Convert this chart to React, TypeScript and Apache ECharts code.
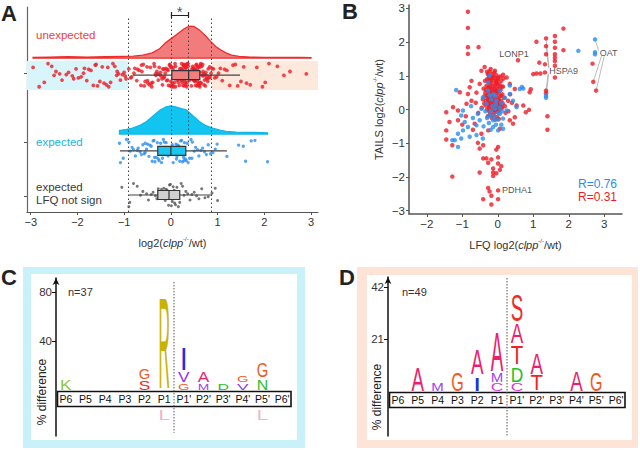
import React, { useEffect, useRef } from 'react';
import * as echarts from 'echarts';

const FONT = '"Liberation Sans", Arial, Helvetica, sans-serif';

// ---------------- Panel A data ----------------
const unexpectedValues = [
  -2.95, -2.82, -2.71, -2.63, -2.55, -2.5, -2.46, -2.38, -2.33, -2.24, -2.19, -2.11, -2.08, -2.03, -1.98, -1.92,
  -1.87, -1.85, -1.8, -1.76, -1.71, -1.66, -1.62, -1.6, -1.57, -1.52, -1.47, -1.43, -1.38, -1.35, -1.33, -1.29,
  -1.24, -1.2, -1.16, -1.15, -1.12, -1.08, -1.04, -1.0, -0.98, -0.96,
  -0.9, -0.86, -0.84, -0.79, -0.77, -0.73, -0.71, -0.68, -0.64, -0.63, -0.59, -0.57, -0.55, -0.51, -0.49, -0.46,
  -0.44, -0.41, -0.39, -0.36, -0.35, -0.32, -0.3, -0.28, -0.27, -0.24, -0.22, -0.21, -0.19, -0.17, -0.15, -0.14,
  -0.12, -0.11, -0.09, -0.08, -0.06, -0.05, -0.03, -0.02, -0.01, 0.0, 0.01, 0.03, 0.04, 0.05, 0.06, 0.08, 0.09,
  0.1, 0.11, 0.12, 0.13, 0.14, 0.15, 0.16, 0.17, 0.18, 0.19, 0.2, 0.21, 0.22, 0.22, 0.23, 0.24, 0.25, 0.26, 0.27,
  0.28, 0.29, 0.3, 0.3, 0.31, 0.32, 0.33, 0.34, 0.35, 0.36, 0.37, 0.38, 0.38, 0.39, 0.4, 0.41, 0.42, 0.43, 0.44,
  0.45, 0.46, 0.47, 0.48, 0.49, 0.5, 0.51, 0.52, 0.53, 0.54, 0.55, 0.56, 0.57, 0.58, 0.59, 0.6, 0.61, 0.62, 0.63,
  0.64, 0.66, 0.67, 0.69, 0.7, 0.72, 0.73, 0.75, 0.77, 0.78, 0.8, 0.82, 0.84, 0.86, 0.88, -0.5, -0.15, 0.05, 0.18,
  0.27, 0.33, 0.44, 0.52, 0.58, 0.65, 0.71, -0.25, 0.02, 0.24, 0.36, 0.47, 0.55,
  -0.62, -0.33, -0.07, 0.07, 0.14, 0.2, 0.26, 0.31, 0.35, 0.4, 0.43, 0.48, 0.5, 0.53, 0.57, 0.6, 0.63, 0.68,
  0.74, 0.79, 0.83, -0.42, -0.18, 0.0, 0.1, 0.16, 0.23, 0.29, 0.34, 0.39, 0.45, 0.49, 0.56, 0.62, 0.69, 0.76,
  0.91, 0.94, 0.98, 1.02, 1.06, 1.1, 1.15, 1.2, 1.26, 1.33, 1.38, 1.43, 1.5, 1.56, 1.62, 1.7, 1.84, 1.96, 2.02,
  2.1, 2.28, 2.42, 2.55, 2.9,
];
const expectedValues = [
  -1.1, -1.08, -1.02, -0.95, -0.9, -0.87, -0.83, -0.8, -0.76, -0.72, -0.7, -0.66, -0.63, -0.6, -0.57, -0.55,
  -0.52, -0.5, -0.47, -0.45, -0.42, -0.4, -0.38, -0.36, -0.34, -0.31, -0.29, -0.27, -0.25, -0.22, -0.2, -0.18,
  -0.16, -0.14, -0.12, -0.1, -0.08, -0.06, -0.04, -0.02, 0.0, 0.02, 0.03, 0.05, 0.07, 0.09, 0.11, 0.13, 0.15,
  0.17, 0.19, 0.21, 0.23, 0.25, 0.27, 0.29, 0.31, 0.33, 0.35, 0.37, 0.4, 0.43, 0.46, 0.5, 0.53, 0.57, 0.6, 0.64,
  0.68, 0.72, 0.76, 0.8, 0.85, 0.9, 0.95, 0.99, 1.2, 1.45, 1.55, 1.6, 1.72, 1.8, 2.07, -0.35, -0.1, 0.12, 0.28,
  -0.55, 0.05, 0.45,
];
const notSignValues = [
  -1.05, -0.9, -0.88, -0.8, -0.72, -0.65, -0.6, -0.52, -0.48, -0.42, -0.38, -0.33, -0.3, -0.27, -0.24, -0.21,
  -0.18, -0.15, -0.12, -0.1, -0.08, -0.05, -0.03, -0.01, 0.01, 0.03, 0.05, 0.08, 0.1, 0.13, 0.16, 0.19, 0.22,
  0.25, 0.28, 0.32, 0.36, 0.41, 0.45, 0.5, 0.55, 0.6, 0.66, 0.73, 0.8, 0.88, 0.95, 1.0, -0.2, 0.07,
];
const jitterPattern = [
  0.62, -0.41, 0.15, -0.88, 0.93, -0.07, 0.47, -0.66, 0.29, -0.23, 0.81, -0.95, 0.04, 0.55, -0.52, 0.71, -0.3,
  0.38, -0.79, 0.1, -0.14, 0.86, -0.6, 0.22, -0.45, 0.67, -0.02, 0.5, -0.84,
];
const redDensityX = [-2.95, -2.6, -2.2, -1.8, -1.4, -1.0, -0.8, -0.6, -0.4, -0.25, -0.12, 0.0, 0.09, 0.18, 0.27, 0.35, 0.42, 0.5, 0.61, 0.75, 0.85, 0.96, 1.07, 1.18, 1.3, 1.46, 1.7, 2.0, 2.4, 2.8, 3.0];
const redDensityH = [0.02, 0.03, 0.04, 0.03, 0.04, 0.05, 0.06, 0.09, 0.16, 0.28, 0.47, 0.6, 0.7, 0.8, 0.9, 0.97, 1.0, 0.98, 0.88, 0.68, 0.52, 0.36, 0.25, 0.16, 0.09, 0.05, 0.03, 0.02, 0.02, 0.02, 0.01];
const blueDensityX = [-1.1, -0.95, -0.82, -0.65, -0.52, -0.4, -0.23, -0.1, 0.0, 0.1, 0.2, 0.33, 0.47, 0.61, 0.75, 0.89, 1.05, 1.18, 1.4, 1.6, 1.8, 2.07];
const blueDensityH = [0.13, 0.17, 0.21, 0.32, 0.45, 0.62, 0.86, 0.97, 1.0, 0.97, 0.92, 0.86, 0.65, 0.45, 0.3, 0.21, 0.14, 0.1, 0.07, 0.06, 0.06, 0.04];
// [min, q1, median, q3, max]
const boxUnexpected = [-0.81, 0.02, 0.38, 0.62, 1.48];
const boxExpected = [-1.09, -0.28, 0.0, 0.32, 1.2];
const boxNotSign = [-0.9, -0.28, -0.04, 0.19, 0.87];
const cutoffs = [-0.92, 0.87];
const medians = [0, 0.38];
const xTicksA = [-3, -2, -1, 0, 1, 2, 3];

// ---------------- Panel B data ----------------
const tailsRed = [
  [-0.3, 0.9], [-0.25, 1.0], [-0.2, 0.85], [-0.15, 0.95], [-0.1, 1.1], [-0.05, 0.8], [0.0, 0.9], [0.05, 0.75], [0.1, 0.85],
  [-0.32, 0.7], [-0.27, 0.65], [-0.22, 0.72], [-0.17, 0.6], [-0.12, 0.68], [-0.07, 0.55], [-0.02, 0.62], [0.03, 0.5], [0.08, 0.58],
  [0.13, 0.45], [-0.35, 0.5], [-0.3, 0.42], [-0.25, 0.48], [-0.2, 0.38], [-0.15, 0.45], [-0.1, 0.35], [-0.05, 0.4], [0.0, 0.3],
  [0.05, 0.38], [0.1, 0.25], [-0.33, 0.25], [-0.28, 0.2], [-0.23, 0.28], [-0.18, 0.15], [-0.13, 0.22], [-0.08, 0.12], [-0.03, 0.18],
  [0.02, 0.08], [0.07, 0.15], [0.12, 0.05], [-0.3, 0.0], [-0.25, 0.05], [-0.2, -0.05], [-0.15, 0.02], [-0.1, -0.1], [-0.05, 0.0],
  [0.0, -0.08], [0.05, -0.02], [-0.28, -0.2], [-0.22, -0.15], [-0.17, -0.25], [-0.12, -0.18], [-0.07, -0.3], [-0.02, -0.22],
  [0.03, -0.28], [-0.2, 1.2], [-0.28, 1.05], [-0.12, 0.98], [-0.04, 1.02], [0.02, 0.95], [-0.18, 0.78], [-0.09, 0.72], [0.01, 0.7],
  [-0.24, 0.58], [-0.14, 0.52], [-0.04, 0.48], [0.06, 0.62], [-0.26, 0.35], [-0.16, 0.3], [-0.06, 0.26], [0.04, 0.2], [-0.22, 0.1],
  [-0.12, 0.08], [-0.02, 0.04], [-0.34, 0.12], [-0.36, 0.85], [-0.4, 0.62], [-0.42, 0.3], [-0.45, 0.05], [0.15, 0.68], [0.18, 0.35],
  [0.2, 0.1], [0.22, -0.1], [0.16, 0.92], [-0.08, 1.15], [-0.3, 1.12],
  [-0.27, 0.82], [-0.19, 0.92], [-0.11, 0.86], [-0.03, 0.77], [0.07, 0.98], [-0.33, 0.58], [-0.21, 0.52], [-0.09, 0.6],
  [0.0, 0.55], [0.09, 0.4], [-0.29, 0.32], [-0.19, 0.24], [-0.07, 0.33], [0.03, 0.27], [-0.26, 0.16], [-0.14, 0.12],
  [-0.01, 0.15], [0.08, 0.05], [-0.24, -0.05], [-0.09, -0.02], [-0.16, 1.05], [-0.24, 0.92], [-0.13, 0.4], [0.11, 0.68],
  [-0.37, 0.4], [-0.38, 0.18], [0.14, 0.18], [-0.06, 0.92], [-0.22, 0.65], [-0.01, 0.85],
  [-0.84, 2.9], [-0.84, 2.42], [-0.84, 1.85], [-0.84, 1.65], [-0.54, 1.85], [0.57, 1.46], [-0.37, 1.26], [-0.46, 1.15], [-0.23, 1.13],
  [0.15, 1.03], [0.25, 0.95], [0.34, 0.76], [0.48, 0.61], [-0.74, 0.85], [-0.79, 0.66], [-0.51, 0.76], [-1.07, 0.51], [-0.84, 0.46],
  [-1.26, 0.07], [-1.45, -0.08], [-1.12, -0.03], [-0.88, 0.17], [-0.74, 0.26], [-1.36, -0.37], [-1.12, -0.32], [-1.45, -0.62],
  [-0.65, -0.42], [-0.46, -0.72], [-0.27, -0.62], [0.06, -0.57], [0.43, -0.42], [0.34, -0.32], [0.48, -0.23], [0.53, 0.12],
  [0.29, 0.26], [0.72, 0.12], [0.79, -0.08], [0.88, -0.01], [0.9, 0.51], [0.93, 0.6], [-0.6, 0.5], [-0.62, 0.2], [-0.55, -0.1],
  [-0.9, -0.2], [-1.0, -0.45], [-0.7, -0.6], [0.35, 0.45], [0.4, 0.2], [0.3, -0.05], [-1.45, -0.89], [-1.28, -1.06], [-0.56, -0.99],
  [-0.41, -1.06], [-0.51, -1.16],
  [0.01, -1.11], [-0.04, -1.19], [-0.41, -1.45], [-0.32, -1.45], [-0.18, -1.48], [0.01, -1.42], [-0.27, -1.58], [0.01, -1.6],
  [0.1, -1.68], [-0.13, -1.75], [0.06, -1.79], [-0.51, -1.87], [-0.13, -1.87], [-0.13, -1.97], [-0.04, -1.89], [-1.28, -1.99],
  [-0.27, -2.33], [-0.23, -2.43], [0.01, -2.4], [-0.18, -2.56], [-0.41, -2.66], [0.01, -2.66], [-0.18, -2.82],
  [1.85, 2.4], [1.61, 2.18], [1.36, 2.11], [1.09, 2.01], [1.61, 2.01], [1.36, 1.88], [1.61, 1.83], [1.85, 1.76], [1.36, 1.64],
  [1.61, 1.64], [1.61, 1.54], [1.17, 1.39], [1.61, 1.44], [1.33, 1.34], [1.61, 1.3], [1.09, 1.07], [1.2, 1.07], [1.33, 1.1],
  [1.61, 0.95], [1.0, 1.05], [1.36, 0.56], [1.36, 0.48], [2.69, 0.82], [2.77, 0.56], [2.67, 1.36], [1.4, -0.2], [1.4, -0.6],
];
const tailsBlue = [
  [-0.23, 1.0], [-0.27, 0.8], [-1.17, 0.58], [-0.98, -0.03], [-1.03, -0.18], [-0.93, -0.37], [-0.56, -0.13], [-0.51, -0.32],
  [-0.6, -0.47], [-0.84, -0.52], [-0.98, -0.62], [-1.12, -0.72], [-1.21, -0.91], [-1.03, -0.86], [-0.79, -0.81], [-0.6, -0.76],
  [-0.42, -0.86], [-0.23, -0.18], [-0.13, -0.32], [-0.08, 0.02], [0.06, -0.13], [0.15, -0.27], [0.25, -0.03], [0.43, 0.26],
  [0.34, 0.46], [-0.04, 0.26], [-0.32, 0.17], [-0.42, 0.36], [-0.46, 0.02], [-0.27, 0.56], [0.06, 0.56], [-0.13, -0.52],
  [0.01, -0.62], [0.15, -0.57], [0.34, 0.71], [0.62, 0.61], [0.53, 0.07], [0.68, 0.67], [0.72, 0.62], [-1.12, -1.11],
  [-1.28, -0.91], [-0.2, -0.05], [-0.15, 0.1], [-0.1, -0.2], [-0.05, 0.15], [0.0, -0.3], [0.05, 0.05], [0.1, -0.45],
  [-0.25, -0.4], [-0.3, -0.25], [-0.18, 0.3], [-0.08, 0.4], [0.02, -0.1], [0.1, 0.2], [-0.35, -0.05], [-0.2, -0.6],
  [-0.12, 0.45], [0.2, 0.35], [-0.4, -0.5], [-0.7, -0.25], [-0.75, 0.1], [2.27, 1.74], [2.74, 2.08], [2.74, 1.7], [2.74, 1.64],
  [1.36, 0.41], [1.36, 0.35], [-0.05, -0.45], [-0.22, 0.42], [0.12, -0.05],
];
const geneLabels: [string, number, number][] = [
  ['LONP1', 0.04, 1.65],
  ['HSPA9', 1.45, 1.15],
  ['OAT', 2.87, 1.68],
  ['PDHA1', 0.12, -2.38],
];
const labelLinks = [
  [[1.36, 2.11], [1.44, 1.25]],
  [[1.36, 1.88], [1.44, 1.22]],
  [[1.36, 0.56], [1.42, 1.06]],
  [[1.36, 0.35], [1.43, 1.04]],
  [[2.74, 2.08], [2.84, 1.75]],
  [[2.69, 0.82], [2.92, 1.58]],
  [[2.77, 0.56], [3.0, 1.58]],
];
const xTicksB = [-2, -1, 0, 1, 2, 3];
const yTicksB = [-3, -2, -1, 0, 1, 2, 3];

// ---------------- Panels C, D data ----------------
const positions = ['P6', 'P5', 'P4', 'P3', 'P2', 'P1', "P1'", "P2'", "P3'", "P4'", "P5'", "P6'"];
// [position, residue, low %, high %]
const logoC: [string, string, number, number][] = [
  ['P6', 'K', 0, 8.2],
  ['P2', 'S', 0, 7.3], ['P2', 'G', 9, 18],
  ['P1', 'R', 0, 76], ['P1', 'L', -16.3, -24.5],
  ["P1'", 'G', 0, 5.7], ["P1'", 'V', 6.5, 14.7], ["P1'", 'I', 16.3, 34.3],
  ["P2'", 'M', 0, 5.7], ["P2'", 'A', 6.5, 14.7],
  ["P3'", 'D', 0, 4.9],
  ["P4'", 'V', 0, 5.7], ["P4'", 'G', 6.5, 12],
  ["P5'", 'N', 0, 9], ["P5'", 'G', 9.8, 22], ["P5'", 'L', -16.3, -24.5],
];
const logoD: [string, string, number, number][] = [
  ['P5', 'A', 0, 9.7],
  ['P4', 'M', 0, 3.2],
  ['P3', 'G', 0, 7.3],
  ['P2', 'I', 0, 5.2], ['P2', 'A', 6.5, 16.6],
  ['P1', 'C', 0, 3.2], ['P1', 'M', 3.6, 7.3], ['P1', 'A', 7.7, 23.8],
  ["P1'", 'C', 0, 3.2], ["P1'", 'D', 3.6, 9.7], ["P1'", 'T', 10.9, 18.6], ["P1'", 'A', 19.4, 27.5], ["P1'", 'S', 27.9, 38.4],
  ["P2'", 'T', 0, 6.5], ["P2'", 'A', 6.9, 15.3],
  ["P4'", 'A', 0, 8.1],
  ["P5'", 'G', 0, 7.3],
];
const nC = 37;
const nD = 49;
const yTicksC = [40, 80];
const yTicksD = [21, 42];

const letterColors: Record<string, string> = {
  A: '#ec1f6e', C: '#d63ad6', D: '#1fc01f', G: '#f2591f', I: '#1f2fe0', K: '#8cc63e', L: '#f5b4c4',
  M: '#a13ff0', N: '#2cc12c', R: '#c8b400', S: '#ef2b25', T: '#ef2424', V: '#9333f5',
};
const letterWidthEm: Record<string, number> = {
  A: 0.667, C: 0.722, D: 0.722, G: 0.778, I: 0.42, K: 0.667, L: 0.556, M: 0.833, N: 0.722, R: 0.722,
  S: 0.667, T: 0.611, V: 0.667,
};

// layout constants (panel A rows in y-axis units)
const ROW_RED = 6.68;
const ROW_BLUE = 2.98;
const ROW_GRAY = 0.83;
const JIT = 0.6;
const BOX_HALF = 0.22;
const RED_BASE = 7.51;
const RED_PEAK = 1.56;
const BLUE_BASE = 3.8;
const BLUE_PEAK = 1.37;

const minus = (v: number) => String(v).replace('-', '\u2212');
const axisNameRich = {
  i: { fontStyle: 'italic', fontSize: 11, fontFamily: FONT, color: '#333' },
  s: { fontSize: 6, fontFamily: FONT, color: '#333', verticalAlign: 'top', lineHeight: 14 },
};

function densitySeries(xs: number[], hs: number[], base: number, peak: number, fill: string, stroke: string) {
  return {
    type: 'custom', xAxisIndex: 0, yAxisIndex: 0, z: 3, silent: true, clip: false,
    data: xs.map((x, i) => [x, base + hs[i] * peak]),
    renderItem: (params: any, api: any) => {
      if (params.dataIndex !== 0) return null;
      const pts: number[][] = [api.coord([xs[0], base])];
      xs.forEach((x, i) => pts.push(api.coord([x, base + hs[i] * peak])));
      pts.push(api.coord([xs[xs.length - 1], base]));
      return { type: 'polygon', shape: { points: pts }, style: { fill, stroke, lineWidth: 1.3 } };
    },
  };
}

function boxSeries(stats: number[], row: number, fill: string) {
  return {
    type: 'custom', xAxisIndex: 0, yAxisIndex: 0, z: 6, silent: true, clip: false,
    data: [[...stats, row]],
    renderItem: (params: any, api: any) => {
      const [mn, q1, md, q3, mx] = stats;
      const a = api.coord([mn, row]);
      const b = api.coord([mx, row]);
      const t = api.coord([q1, row + BOX_HALF]);
      const bt = api.coord([q3, row - BOX_HALF]);
      const m1 = api.coord([md, row + BOX_HALF]);
      const m2 = api.coord([md, row - BOX_HALF]);
      return {
        type: 'group',
        children: [
          { type: 'line', shape: { x1: a[0], y1: a[1], x2: b[0], y2: b[1] }, style: { stroke: '#444', lineWidth: 1.2 } },
          { type: 'rect', shape: { x: t[0], y: t[1], width: bt[0] - t[0], height: bt[1] - t[1] }, style: { fill, stroke: '#333', lineWidth: 1.2 } },
          { type: 'line', shape: { x1: m1[0], y1: m1[1], x2: m2[0], y2: m2[1] }, style: { stroke: '#333', lineWidth: 1.2 } },
        ],
      };
    },
  };
}

function jittered(values: number[], row: number) {
  return values.map((v, i) => [v, row + jitterPattern[(i * 11) % jitterPattern.length] * JIT]);
}

function logoSeries(logo: [string, string, number, number][], axis: number, colW: number) {
  return {
    type: 'custom', xAxisIndex: axis, yAxisIndex: axis, z: 5, silent: true, clip: false,
    data: logo.map((d) => [positions.indexOf(d[0]), d[2], d[3]]),
    encode: { x: 0, y: [1, 2] },
    renderItem: (params: any, api: any) => {
      const [, ch, lo, hi] = logo[params.dataIndex];
      const ci = positions.indexOf(logo[params.dataIndex][0]);
      const p0 = api.coord([ci, lo]);
      const p1 = api.coord([ci, hi]);
      const h = Math.abs(p0[1] - p1[1]);
      const F = 20;
      return {
        type: 'text',
        x: p0[0],
        y: (p0[1] + p1[1]) / 2,
        scaleX: colW / (letterWidthEm[ch] * F),
        scaleY: h / (0.716 * F),
        style: { text: ch, fill: letterColors[ch], font: `${F}px ${FONT}`, align: 'center', verticalAlign: 'middle' },
      };
    },
  };
}

function labelBoxSeries(axis: number, dividerTop: number, dividerBottom: number) {
  return {
    type: 'custom', xAxisIndex: axis, yAxisIndex: axis, z: 4, silent: true, clip: false,
    data: [[0, 0]],
    renderItem: (params: any, api: any) => {
      const bw = api.size([1, 0])[0];
      const p0 = api.coord([0, 0]);
      const pl = api.coord([positions.length - 1, 0]);
      const left = p0[0] - bw / 2 + 1.5;
      const right = pl[0] + bw / 2 - 1;
      const top = p0[1] + 1.5;
      const h = 15;
      const dx = (api.coord([5, 0])[0] + api.coord([6, 0])[0]) / 2;
      const dt = api.coord([5, dividerTop])[1];
      const db = api.coord([5, dividerBottom])[1];
      const children: any[] = [
        { type: 'rect', shape: { x: left, y: top, width: right - left, height: h }, style: { fill: '#fff', stroke: '#111', lineWidth: 1.6 } },
      ];
      positions.forEach((p, i) => {
        const c = api.coord([i, 0]);
        children.push({
          type: 'text', x: c[0], y: top + h / 2 + 0.5,
          style: { text: p, fill: '#111', font: `10.5px ${FONT}`, align: 'center', verticalAlign: 'middle' },
        });
      });
      children.push({
        type: 'line', shape: { x1: dx, y1: dt, x2: dx, y2: db },
        style: { stroke: '#555', lineWidth: 1, lineDash: [1.5, 1.5] },
      });
      return { type: 'group', children };
    },
  };
}

function buildOption(): any {
  const gridBase = { containLabel: false, outerBoundsMode: 'none' };
  const text = (t: string, x: number, y: number, fill: string, size: number, extra: any = {}) => ({
    type: 'text', x, y, silent: true,
    style: { text: t, fill, font: `${extra.weight || 'normal'} ${size}px ${FONT}`, align: extra.align || 'left', verticalAlign: 'middle' },
    rotation: extra.rotation || 0,
  });

  return {
    animation: false,
    backgroundColor: '#fff',
    textStyle: { fontFamily: FONT },
    grid: [
      { left: 27, top: 7, width: 291, height: 205, ...gridBase },
      { left: 409, top: 5, width: 213, height: 209, ...gridBase },
      { left: 56, top: 278, width: 236, height: 158, ...gridBase },
      { left: 388, top: 277, width: 238, height: 159, ...gridBase },
    ],
    xAxis: [
      {
        type: 'value', gridIndex: 0, min: -3.08, max: 3.15,
        axisLine: { onZero: false, lineStyle: { color: '#555', width: 1.2 } },
        axisTick: { show: true, length: 3, customValues: xTicksA, lineStyle: { color: '#555' } },
        axisLabel: { customValues: xTicksA, fontSize: 11, color: '#333', margin: 4, formatter: minus, fontFamily: FONT },
        splitLine: { show: false },
        name: 'log2({i|clpp}{s|-/-}/wt)', nameLocation: 'middle', nameGap: 24,
        nameTextStyle: { fontSize: 11, color: '#333', fontFamily: FONT, rich: axisNameRich },
      },
      {
        type: 'value', gridIndex: 1, min: -2.5, max: 3.5,
        axisLine: { onZero: false, lineStyle: { color: '#555', width: 1.5 } },
        axisTick: { show: true, length: 3, customValues: xTicksB, lineStyle: { color: '#555' } },
        axisLabel: { customValues: xTicksB, fontSize: 11.5, color: '#333', margin: 4, formatter: minus, fontFamily: FONT },
        splitLine: { show: false },
        name: 'LFQ log2({i|clpp}{s|-/-}/wt)', nameLocation: 'middle', nameGap: 24,
        nameTextStyle: { fontSize: 11, color: '#333', fontFamily: FONT, rich: axisNameRich },
      },
      { type: 'category', gridIndex: 2, data: positions, show: false },
      { type: 'category', gridIndex: 3, data: positions, show: false },
    ],
    yAxis: [
      {
        type: 'value', gridIndex: 0, min: 0, max: 10,
        axisLine: { show: true, onZero: false, lineStyle: { color: '#666', width: 1.2 } },
        axisTick: { show: true, length: 3, customValues: [6.78, 3.41, 0.78], lineStyle: { color: '#555' } },
        axisLabel: { show: false },
        splitLine: { show: false },
      },
      {
        type: 'value', gridIndex: 1, min: -3.1, max: 3.1,
        axisLine: { show: true, onZero: false, lineStyle: { color: '#555', width: 1.5 } },
        axisTick: { show: true, length: 3, customValues: yTicksB, lineStyle: { color: '#555' } },
        axisLabel: { customValues: yTicksB, fontSize: 11.5, color: '#333', margin: 4, formatter: minus, fontFamily: FONT },
        splitLine: { show: false },
        name: 'TAILS log2({i|clpp}{s|-/-}/wt)', nameLocation: 'middle', nameGap: 23, nameRotate: 90,
        nameTextStyle: { fontSize: 11, color: '#333', fontFamily: FONT, rich: axisNameRich },
      },
      {
        type: 'value', gridIndex: 2, min: -37.6, max: 91.4,
        axisLine: { show: true, onZero: false, symbol: ['none', 'arrow'], symbolSize: [5, 7], lineStyle: { color: '#111', width: 1.5 } },
        axisTick: { show: true, length: 4, customValues: yTicksC, lineStyle: { color: '#111' } },
        axisLabel: { customValues: yTicksC, fontSize: 11.5, color: '#333', margin: 4, fontFamily: FONT },
        splitLine: { show: false },
      },
      {
        type: 'value', gridIndex: 3, min: -18.2, max: 46,
        axisLine: { show: true, onZero: false, symbol: ['none', 'arrow'], symbolSize: [5, 7], lineStyle: { color: '#111', width: 1.5 } },
        axisTick: { show: true, length: 4, customValues: yTicksD, lineStyle: { color: '#111' } },
        axisLabel: { customValues: yTicksD, fontSize: 11.5, color: '#333', margin: 4, fontFamily: FONT },
        splitLine: { show: false },
      },
    ],
    graphic: [
      { type: 'rect', z: -10, silent: true, shape: { x: 23, y: 267, width: 282, height: 181 }, style: { fill: '#c8f1f9' } },
      { type: 'rect', z: -9, silent: true, shape: { x: 31, y: 274, width: 266, height: 166 }, style: { fill: '#ffffff' } },
      { type: 'rect', z: -10, silent: true, shape: { x: 357, y: 267, width: 281, height: 181 }, style: { fill: '#fde4d6' } },
      { type: 'rect', z: -9, silent: true, shape: { x: 367, y: 275, width: 265, height: 165 }, style: { fill: '#ffffff' } },
      text('A', 1, 13, '#222', 22, { weight: 'bold' }),
      text('B', 342, 11, '#222', 22, { weight: 'bold' }),
      text('C', 1, 277, '#222', 22, { weight: 'bold' }),
      text('D', 339, 277, '#222', 22, { weight: 'bold' }),
      text('unexpected', 36, 35, '#ef3b3b', 11.5),
      text('expected', 36, 142, '#19b4e6', 11.5),
      text('expected', 36, 187, '#3a3a3a', 11.5),
      text('LFQ not sign', 36, 200, '#3a3a3a', 11.5),
      text('R=0.76', 617, 184, '#2a8ef0', 12, { align: 'right' }),
      text('R=0.31', 617, 197, '#ee1c25', 12, { align: 'right' }),
      text(`n=${nC}`, 68, 292, '#333', 11),
      text(`n=${nD}`, 402, 292, '#333', 11),
      { ...text('% difference', 42, 392, '#222', 12, { align: 'center' }), rotation: Math.PI / 2 },
      { ...text('% difference', 377, 397, '#222', 12, { align: 'center' }), rotation: Math.PI / 2 },
    ],
    series: [
      // ---- Panel A ----
      {
        type: 'custom', xAxisIndex: 0, yAxisIndex: 0, z: 1, silent: true, clip: false,
        data: [[-3.08, cutoffs[0], 0], [cutoffs[1], 3.15, 1]],
        encode: { x: [0, 1], y: 2 },
        renderItem: (params: any, api: any) => {
          const p0 = api.coord([api.value(0), ROW_RED + 0.69]);
          const p1 = api.coord([api.value(1), ROW_RED - 0.73]);
          return {
            type: 'rect',
            shape: { x: p0[0], y: p0[1], width: p1[0] - p0[0], height: p1[1] - p0[1] },
            style: { fill: params.dataIndex === 0 ? '#d8f5fb' : '#fde8dc' },
          };
        },
      },
      densitySeries(redDensityX, redDensityH, RED_BASE, RED_PEAK, 'rgba(240,100,100,0.85)', '#ee2b2b'),
      densitySeries(blueDensityX, blueDensityH, BLUE_BASE, BLUE_PEAK, '#12c4f0', '#0cb8e8'),
      {
        type: 'lines', coordinateSystem: 'cartesian2d', xAxisIndex: 0, yAxisIndex: 0, z: 4, silent: true,
        lineStyle: { color: '#444', width: 1, type: [1.5, 2.5], opacity: 1 },
        data: [
          { coords: [[cutoffs[0], 0], [cutoffs[0], 9.46]] },
          { coords: [[cutoffs[1], 0], [cutoffs[1], 9.46]] },
          { coords: [[medians[0], 2.78], [medians[0], 9.61]] },
          { coords: [[medians[1], 3.22], [medians[1], 9.61]] },
        ],
      },
      {
        type: 'lines', coordinateSystem: 'cartesian2d', xAxisIndex: 0, yAxisIndex: 0, z: 4, silent: true,
        lineStyle: { color: '#222', width: 1.2, opacity: 1 },
        data: [
          { coords: [[medians[0], 9.61], [medians[1], 9.61]] },
          { coords: [[medians[0], 9.46], [medians[0], 9.76]] },
          { coords: [[medians[1], 9.46], [medians[1], 9.76]] },
        ],
      },
      {
        type: 'scatter', xAxisIndex: 0, yAxisIndex: 0, symbolSize: 0, silent: true, z: 4,
        data: [[(medians[0] + medians[1]) / 2, 9.79]],
        label: { show: true, position: 'inside', formatter: '*', fontSize: 15, color: '#222', fontFamily: FONT },
      },
      {
        type: 'scatter', xAxisIndex: 0, yAxisIndex: 0, symbolSize: 3.8, z: 5, silent: true,
        itemStyle: { color: '#ee1c25' }, data: jittered(unexpectedValues, ROW_RED),
      },
      {
        type: 'scatter', xAxisIndex: 0, yAxisIndex: 0, symbolSize: 3.3, z: 5, silent: true,
        itemStyle: { color: '#2a8ef0' }, data: jittered(expectedValues, ROW_BLUE),
      },
      {
        type: 'scatter', xAxisIndex: 0, yAxisIndex: 0, symbolSize: 3, z: 5, silent: true,
        itemStyle: { color: '#555' }, data: jittered(notSignValues, ROW_GRAY),
      },
      boxSeries(boxUnexpected, ROW_RED, '#f08080'),
      boxSeries(boxExpected, ROW_BLUE, '#18c6f0'),
      boxSeries(boxNotSign, ROW_GRAY, '#d0d0d0'),
      // ---- Panel B ----
      {
        type: 'scatter', xAxisIndex: 1, yAxisIndex: 1, symbolSize: 4.5, z: 3, silent: true,
        itemStyle: { color: '#ee1c25' }, data: tailsRed,
      },
      {
        type: 'scatter', xAxisIndex: 1, yAxisIndex: 1, symbolSize: 4.5, z: 4, silent: true,
        itemStyle: { color: '#2a8ef0' }, data: tailsBlue,
      },
      {
        type: 'lines', coordinateSystem: 'cartesian2d', xAxisIndex: 1, yAxisIndex: 1, z: 2, silent: true,
        lineStyle: { color: '#aaa', width: 0.8, opacity: 1 },
        data: labelLinks.map((c) => ({ coords: c })),
      },
      {
        type: 'scatter', xAxisIndex: 1, yAxisIndex: 1, symbolSize: 0, z: 6, silent: true,
        data: geneLabels.map((g) => ({ value: [g[1], g[2]], name: g[0] })),
        label: { show: true, position: 'right', distance: 0, formatter: '{b}', fontSize: 9, color: '#222', fontFamily: FONT },
      },
      // ---- Panel C ----
      labelBoxSeries(2, 88.2, -35),
      logoSeries(logoC, 2, 11.5),
      // ---- Panel D ----
      labelBoxSeries(3, 45.6, -18),
      logoSeries(logoD, 3, 12.5),
    ],
  };
}

export default function App() {
  const ref = useRef<HTMLDivElement>(null);
  useEffect(() => {
    const chart = echarts.init(ref.current!, null, { renderer: 'svg' });
    chart.setOption(buildOption());
    return () => chart.dispose();
  }, []);
  return <div ref={ref} style={{ position: 'absolute', left: 0, top: 0, width: 640, height: 450 }} />;
}
